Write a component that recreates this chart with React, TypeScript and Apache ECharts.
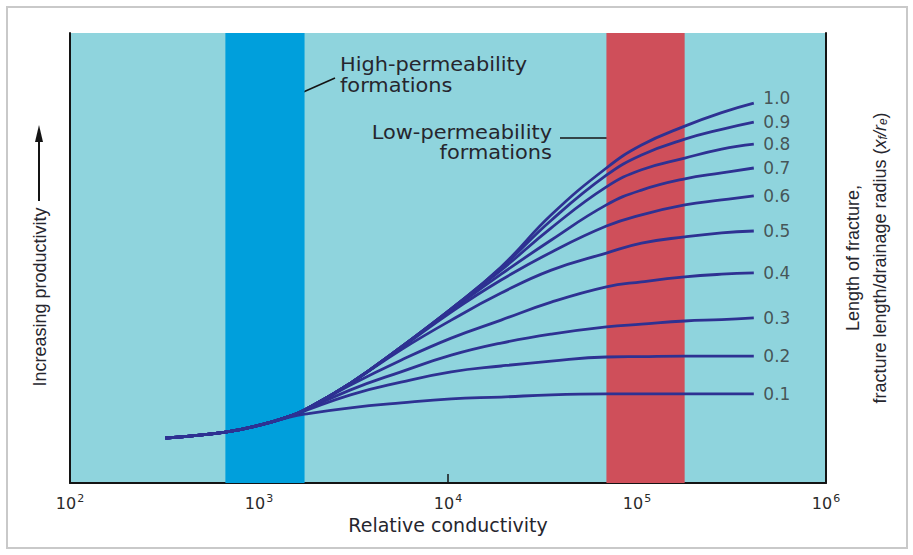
import React, { useEffect, useRef } from "react";
import * as echarts from "echarts";

// Relative conductivity (x, log scale)
const conductivity = [320, 665, 1020, 1470, 1740, 3050, 5640, 10400, 19100, 35200, 68900, 105700, 179000, 280500, 415000];

// Productivity (arbitrary units) for each fracture length ratio xf/re
const ratioLabels = ["0.1", "0.2", "0.3", "0.4", "0.5", "0.6", "0.7", "0.8", "0.9", "1.0"];
const p01 = [10.0, 11.3, 12.9, 14.7, 15.3, 16.7, 17.8, 18.7, 19.1, 19.6, 19.8, 19.8, 19.8, 19.8, 19.8];
const p02 = [10.0, 11.3, 12.9, 14.9, 16.0, 19.6, 22.4, 24.7, 26.0, 27.1, 28.0, 28.1, 28.2, 28.2, 28.2];
const p03 = [10.0, 11.3, 12.9, 14.9, 16.1, 20.7, 24.7, 28.4, 31.1, 33.1, 34.7, 35.3, 36.0, 36.3, 36.7];
const p04 = [10.0, 11.3, 12.9, 14.9, 16.2, 21.8, 27.3, 32.2, 36.2, 40.2, 43.6, 44.7, 45.8, 46.4, 46.7];
const p05 = [10.0, 11.3, 12.9, 14.9, 16.2, 22.2, 29.6, 36.2, 42.2, 47.3, 51.1, 53.3, 54.7, 55.6, 56.0];
const p06 = [10.0, 11.3, 12.9, 14.9, 16.2, 22.2, 30.0, 38.0, 45.1, 51.3, 57.1, 59.6, 61.8, 62.9, 63.8];
const p07 = [10.0, 11.3, 12.9, 14.9, 16.2, 22.2, 30.2, 38.4, 46.4, 54.0, 61.8, 65.1, 67.6, 68.9, 70.0];
const p08 = [10.0, 11.3, 12.9, 14.9, 16.2, 22.2, 30.2, 38.7, 47.3, 56.7, 65.8, 69.6, 72.2, 74.2, 75.3];
const p09 = [10.0, 11.3, 12.9, 14.9, 16.2, 22.2, 30.2, 38.7, 47.8, 58.4, 68.4, 72.9, 76.4, 78.6, 80.2];
const p10 = [10.0, 11.3, 12.9, 14.9, 16.2, 22.2, 30.2, 38.7, 48.0, 59.6, 70.0, 75.1, 79.3, 82.3, 84.4];
const curves = [p01, p02, p03, p04, p05, p06, p07, p08, p09, p10];

// Shaded formation bands (conductivity ranges)
const highPermBand = [664, 1742];
const lowPermBand = [68900, 178700];

const CURVE = "#2e3192";
const TXT = "#26262e";

export default function App() {
  const ref = useRef<HTMLDivElement>(null);
  useEffect(() => {
    document.body.style.margin = "0";
    const chart = echarts.init(ref.current!, null, { renderer: "svg" });
    const last = conductivity.length - 1;

    const lineSeries = curves.map((vals, i) => ({
      type: "line",
      name: ratioLabels[i],
      z: 3,
      smooth: 0.45,
      showSymbol: false,
      symbol: "none",
      silent: true,
      lineStyle: { color: CURVE, width: 2.8 },
      data: vals.map((v, j) => [conductivity[j], v]),
    }));

    chart.setOption({
      animation: false,
      backgroundColor: "#ffffff",
      grid: {
        left: 70,
        right: 87,
        top: 33,
        bottom: 72,
        show: true,
        backgroundColor: "#8fd4dd",
        borderWidth: 0,
      },
      xAxis: {
        type: "log",
        logBase: 10,
        min: 100,
        max: 1000000,
        name: "Relative conductivity",
        nameLocation: "middle",
        nameGap: 30,
        nameTextStyle: { fontFamily: "DejaVu Sans", fontSize: 19, color: TXT },
        axisLine: { show: true, lineStyle: { color: "#141414", width: 2 } },
        axisTick: { show: true, inside: true, length: 9, lineStyle: { color: "#141414", width: 1.5 } },
        minorTick: { show: false },
        splitLine: { show: false },
        axisLabel: {
          fontFamily: "DejaVu Sans",
          fontSize: 16,
          color: "#2a2a2a",
          margin: 10,
          formatter: (v: number) => "{b|10}{s|" + Math.round(Math.log10(v)) + "}",
          rich: {
            b: { fontFamily: "DejaVu Sans", fontSize: 16, color: "#2a2a2a", lineHeight: 18, verticalAlign: "bottom" },
            s: { fontFamily: "DejaVu Sans", fontSize: 11, color: "#2a2a2a", lineHeight: 18, verticalAlign: "top", padding: [0, 0, 6, 1] },
          },
        },
      },
      yAxis: [
        {
          type: "value",
          min: 0,
          max: 100,
          axisLine: { show: true, lineStyle: { color: "#141414", width: 2 } },
          axisTick: { show: false },
          axisLabel: { show: false },
          splitLine: { show: false },
        },
        {
          type: "value",
          position: "right",
          min: 0,
          max: 100,
          axisLine: { show: true, lineStyle: { color: "#141414", width: 2 } },
          axisTick: { show: false },
          axisLabel: { show: false },
          splitLine: { show: false },
        },
      ],
      series: [
        {
          type: "line",
          z: 1,
          silent: true,
          data: [],
          markArea: {
            silent: true,
            label: { show: false },
            data: [
              [
                { xAxis: highPermBand[0], itemStyle: { color: "#009fdc", opacity: 1 } },
                { xAxis: highPermBand[1] },
              ],
              [
                { xAxis: lowPermBand[0], itemStyle: { color: "#cf4f5a", opacity: 1 } },
                { xAxis: lowPermBand[1] },
              ],
            ],
          },
        },
        ...lineSeries,
        {
          type: "scatter",
          z: 4,
          silent: true,
          symbolSize: 1,
          itemStyle: { color: "rgba(0,0,0,0)" },
          data: curves.map((c, i) =>
            i === curves.length - 1
              ? { value: [conductivity[last], c[last]], label: { offset: [0, -5] } }
              : [conductivity[last], c[last]]
          ),
          label: {
            show: true,
            position: "right",
            distance: 9,
            formatter: (p: any) => ratioLabels[p.dataIndex],
            fontFamily: "DejaVu Sans",
            fontSize: 17,
            color: "#333",
          },
        },
      ],
      graphic: [
        {
          type: "rect",
          shape: { x: 7, y: 7, width: 900, height: 541 },
          style: { fill: "none", stroke: "#c9c9c9", lineWidth: 2 },
          silent: true,
        },
        // left axis title with arrow
        {
          type: "text",
          x: 40,
          y: 297,
          rotation: Math.PI / 2,
          style: {
            text: "Increasing productivity",
            fontFamily: "Liberation Sans",
            fontSize: 18,
            fill: TXT,
            align: "center",
            verticalAlign: "middle",
          },
        },
        {
          type: "line",
          shape: { x1: 39, y1: 201, x2: 39, y2: 138 },
          style: { stroke: "#141414", lineWidth: 2 },
        },
        {
          type: "polygon",
          shape: { points: [[39, 125], [35, 142], [43, 142]] },
          style: { fill: "#141414" },
        },
        // right axis title
        {
          type: "text",
          x: 853,
          y: 258,
          rotation: Math.PI / 2,
          style: {
            text: "Length of fracture,",
            fontFamily: "Liberation Sans",
            fontSize: 18,
            fill: TXT,
            align: "center",
            verticalAlign: "middle",
          },
        },
        {
          type: "text",
          x: 880,
          y: 258,
          rotation: Math.PI / 2,
          style: {
            text: "fracture length/drainage radius ({i|x}{s|f}{i|/r}{s|e})",
            fontFamily: "Liberation Sans",
            fontSize: 18,
            fill: TXT,
            align: "center",
            verticalAlign: "middle",
            rich: {
              i: { fontFamily: "Liberation Sans", fontStyle: "italic", fontSize: 18, fill: TXT },
              s: { fontFamily: "Liberation Sans", fontStyle: "italic", fontSize: 12, fill: TXT, padding: [6, 0, 0, 0] },
            },
          },
        },
        // annotations
        {
          type: "text",
          x: 340,
          y: 54,
          scaleX: 1.1,
          style: {
            text: "High-permeability\nformations",
            fontFamily: "DejaVu Sans",
            fontSize: 19,
            lineHeight: 21,
            fill: TXT,
            align: "left",
            verticalAlign: "top",
          },
        },
        {
          type: "line",
          shape: { x1: 283, y1: 101, x2: 335, y2: 78 },
          style: { stroke: "#141414", lineWidth: 1.6 },
        },
        {
          type: "text",
          x: 552,
          y: 122,
          scaleX: 1.1,
          style: {
            text: "Low-permeability\nformations",
            fontFamily: "DejaVu Sans",
            fontSize: 19,
            lineHeight: 20,
            fill: TXT,
            align: "right",
            verticalAlign: "top",
          },
        },
        {
          type: "line",
          shape: { x1: 560, y1: 138, x2: 622, y2: 138 },
          style: { stroke: "#141414", lineWidth: 1.6 },
        },
      ],
    });
    return () => chart.dispose();
  }, []);
  return <div ref={ref} style={{ width: 913, height: 555 }} />;
}
